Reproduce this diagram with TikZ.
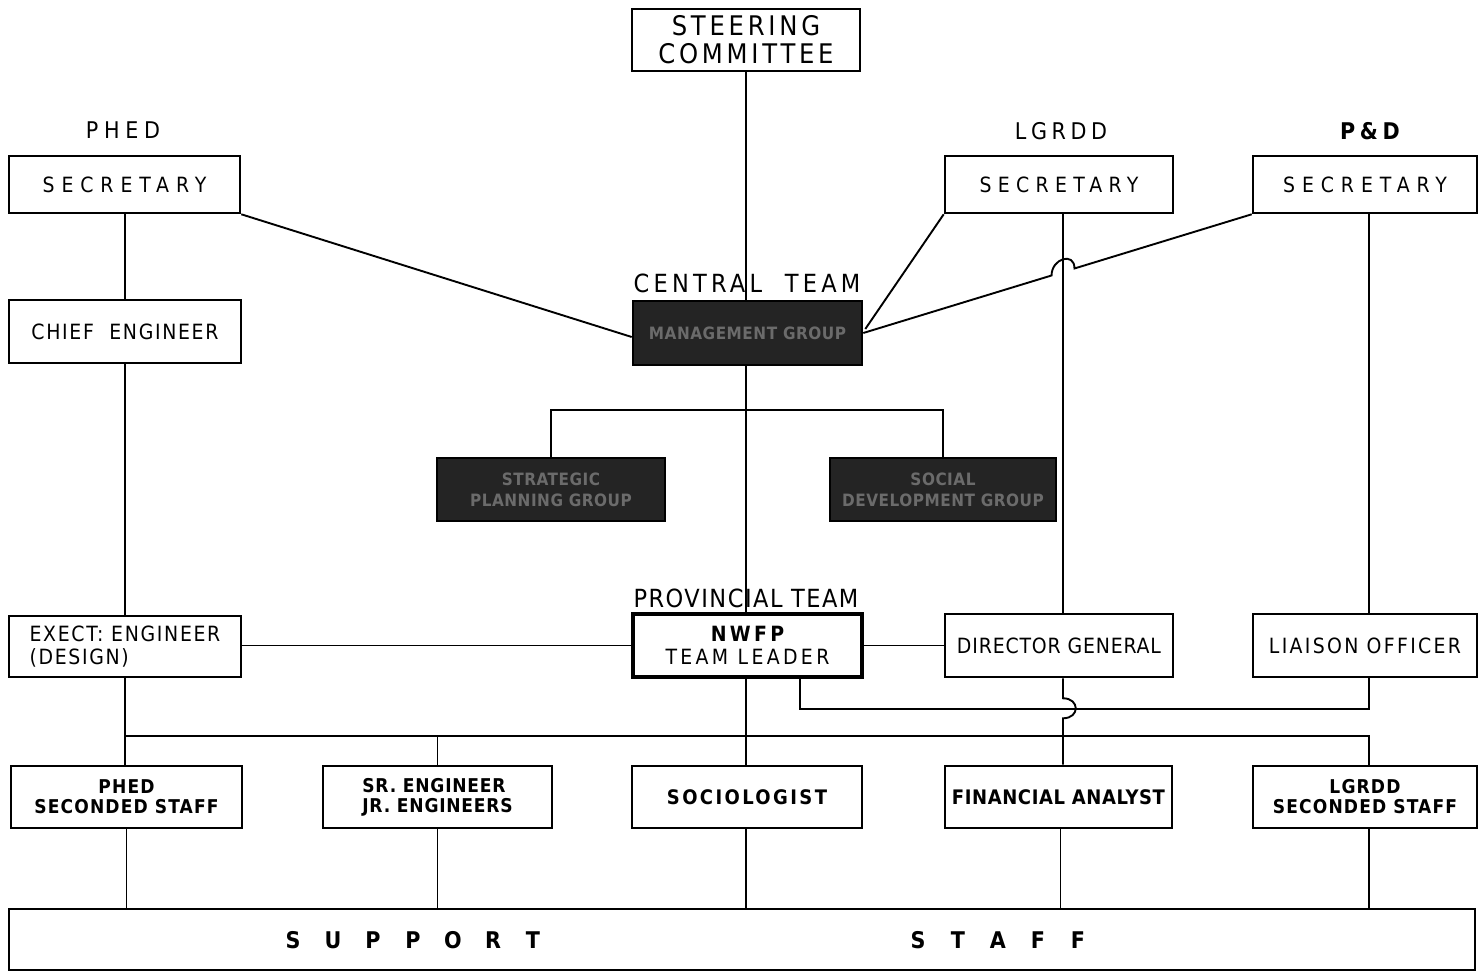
\documentclass[tikz,border=0pt]{standalone}
\usepackage{fontspec}
\setmainfont{DejaVu Sans Condensed}
\usetikzlibrary{calc}
\newcommand\ls[1]{\addfontfeature{LetterSpace=#1}}
\newcommand\fs[2]{\fontsize{#1}{#2}\selectfont}
\newcommand\lt[1]{\makebox[20pt]{#1}}
\tikzset{
  box/.style={draw, line width=1.3pt, inner sep=0pt, align=center},
  darkbox/.style={box, fill=black!86, text=black!58, minimum width=114pt, minimum height=31.5pt,
                  font=\fs{8.5}{10.5}\bfseries\ls{3}},
  lbl/.style={inner sep=0pt},
  conn/.style={line width=0.95pt},
  thick box/.style={box, line width=2.4pt},
}
\begin{document}
\begin{tikzpicture}[x=0.5pt,y=-0.5pt]
\useasboundingbox (0,0) rectangle (1480,972);

% top
\node[box, minimum width=114pt, minimum height=31pt, font=\fs{13.5}{14}\ls{14}] (steer) at (746,40) {STEERING\\COMMITTEE};

% labels
\node[lbl, font=\fs{11.5}{13}\ls{25}] (lphed) at (123,130) {PHED};
\node[lbl, font=\fs{11.5}{13}\ls{20}] (llgrdd) at (1061,131) {LGRDD};
\node[lbl, font=\fs{11.5}{13}\ls{20}\bfseries] (lpd) at (1370,131) {P\&D};

% secretaries
\node[box, minimum width=115.5pt, minimum height=28.5pt, font=\fs{10.5}{12}\ls{33}] (secP) at (124.5,184.5) {SECRETARY};
\node[box, minimum width=114pt, minimum height=28.5pt, font=\fs{10.5}{12}\ls{30}] (secL) at (1059,184.5) {SECRETARY};
\node[box, minimum width=112pt, minimum height=28.5pt, font=\fs{10.5}{12}\ls{33}] (secPD) at (1365,184.5) {SECRETARY};

% chief engineer
\node[box, minimum width=116pt, minimum height=31.5pt, font=\fs{10.5}{12}\ls{8}] (chief) at (125,331.5) {CHIEF~~ENGINEER};

% central team
\node[lbl, font=\fs{12.5}{14}\ls{17}] (lcentral) at (747,283) {CENTRAL~~TEAM};
\node[darkbox, minimum width=114.5pt, minimum height=32pt] (central) at (747.5,333) {MANAGEMENT GROUP};
\node[darkbox] (strat) at (551,489.5) {STRATEGIC\\PLANNING GROUP};
\node[darkbox, minimum width=113pt] (social) at (943,489.5) {SOCIAL\\DEVELOPMENT GROUP};

% provincial team
\node[lbl, font=\fs{12.5}{14}\ls{6}] (lprov) at (746,598) {PROVINCIAL TEAM};
\node[thick box, minimum width=114.5pt, minimum height=31.5pt, font=\fs{10.5}{11.5}\ls{16}] (leader) at (747.5,645.5) {{\bfseries NWFP}\\TEAM LEADER};
\node[box, minimum width=116pt, minimum height=30.5pt, align=left, font=\fs{10.5}{11.5}\ls{8}] (exect) at (125,646.5) {EXECT: ENGINEER\\(DESIGN)};
\node[box, minimum width=114pt, minimum height=31.5pt, font=\fs{10.5}{12}\ls{4}] (dg) at (1059,645.5) {DIRECTOR GENERAL};
\node[box, minimum width=112pt, minimum height=31.5pt, font=\fs{10.5}{12}\ls{11}] (liaison) at (1365,645.5) {LIAISON OFFICER};

% staff row
\node[box, minimum width=115.5pt, minimum height=31pt, font=\fs{9.5}{10}\bfseries\ls{6}] (phedS) at (126.5,797) {PHED\\SECONDED STAFF};
\node[box, minimum width=114.5pt, minimum height=31pt, align=left, font=\fs{9.5}{10}\bfseries\ls{4}] (srE) at (437.5,797) {SR. ENGINEER\\JR. ENGINEERS};
\node[box, minimum width=115pt, minimum height=31pt, font=\fs{10}{11}\bfseries\ls{12}] (soc) at (747,797) {SOCIOLOGIST};
\node[box, minimum width=113.5pt, minimum height=31pt, font=\fs{10}{11}\bfseries\ls{3}] (fin) at (1058.5,797) {FINANCIAL ANALYST};
\node[box, minimum width=112pt, minimum height=31pt, font=\fs{9.5}{10}\bfseries\ls{6}] (lgS) at (1365,797) {LGRDD\\SECONDED STAFF};

% support staff
\node[box, minimum width=733pt, minimum height=30.5pt] (support) at (742,939.5) {};
\node[lbl, font=\fs{11.5}{13}\bfseries] (supporttext) at (685.5,940)
  {\lt{S}\lt{U}\lt{P}\lt{P}\lt{O}\lt{R}\lt{T}\hspace{172.5pt}\lt{S}\lt{T}\lt{A}\lt{F}\lt{F}};

% ---------------- spine x positions ----------------
\coordinate (xP) at (chief.north);                 % PHED column
\coordinate (xC) at (steer.south);                 % central spine
\coordinate (xL) at ($(secL.south)+(4,0)$);        % LGRDD column
\coordinate (xD) at ($(secPD.south)+(4,0)$);       % P&D column

% ---------------- connectors ----------------
% central spine
\draw[conn] (steer.south) -- (xC |- central.north);
\draw[conn] (xC |- central.south) -- (xC |- leader.north);
\draw[conn] (xC |- leader.south) -- (xC |- soc.north);
\draw[conn] (xC |- soc.south) -- (xC |- support.north);

% central sub-groups
\draw[conn] (strat.north) -- ++(0,-47) -| (social.north);

% secretaries to central team
\draw[conn] (secP.south east) -- ($(central.west)+(0,4)$);
\draw[conn] (secL.south west) -- ($(central.east)+(2,-4)$);
\coordinate (h1) at (intersection of secPD.south west--central.east and xL--{xL |- dg.north});
\draw[conn] (secPD.south west) -- ($(h1)!6pt!(secPD.south west)$)
   .. controls +(0,-17) and +(0,-17) .. ($(h1)!6pt!(central.east)$) -- (central.east);

% PHED column
\draw[conn] (xP |- secP.south) -- (chief.north);
\draw[conn] (chief.south) -- (xP |- exect.north);
\draw[conn] (xP |- exect.south) -- (xP |- phedS.north);
\draw[conn] (phedS.south) -- (phedS.south |- support.north);

% LGRDD column
\draw[conn] (xL) -- (xL |- dg.north);
\coordinate (q0) at (xL |- dg.south);
\coordinate (q1) at ($(q0)+(0,20)$);
\coordinate (q2) at ($(q0)+(0,40)$);
\draw[conn] (q0) -- (q1) .. controls +(17,0) and +(17,0) .. (q2) -- (xL |- fin.north);
\draw[conn] ($(fin.south)+(2,0)$) -- ($(fin.south |- support.north)+(2,0)$);

% P&D column
\draw[conn] (xD) -- (xD |- liaison.north);
\draw[conn] (xD |- liaison.south) |- ($(leader.south)+(52.5,30)$) -- ($(leader.south)+(52.5,0)$);

% horizontal links
\draw[conn] (exect.east |- leader.west) -- (leader.west);
\draw[conn] (leader.east) -- (dg.west);

% staff distribution line
\coordinate (d0) at ($(xP |- exect.south)+(0,58)$);
\draw[conn] (d0) -| (xD |- lgS.north);
\draw[conn] (srE.north) -- (srE.north |- d0);
\draw[conn] (srE.south) -- (srE.south |- support.north);
\draw[conn] (xD |- lgS.south) -- (xD |- support.north);
\end{tikzpicture}
\end{document}
